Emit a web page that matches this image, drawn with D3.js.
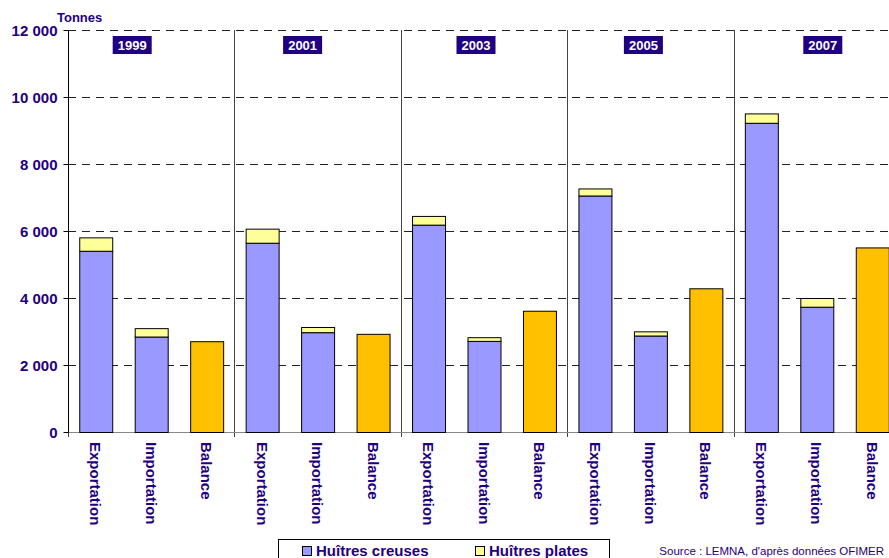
<!DOCTYPE html>
<html>
<head>
<meta charset="utf-8">
<title></title>
<script src="https://d3js.org/d3.v7.min.js"></script>
<style>
  body { margin: 0; background: #fff; }
  text { font-family: Arial, "Liberation Sans", sans-serif; }
</style>
</head>
<body>
<div id="svgcontainer"></div>
<script>
var width = 889;
var height = 558;

var years = ["1999", "2001", "2003", "2005", "2007"];
var kinds = ["Exportation", "Importation", "Balance"];

// tonnes, per year: [export, import]
var creuses = [[5410, 2850], [5650, 2980], [6190, 2720], [7060, 2880], [9230, 3740]];
var plates  = [[400, 250], [420, 155], [260, 110], [210, 125], [280, 260]];
var balance = [2710, 2930, 3620, 4290, 5510];

var yTicks = [0, 2000, 4000, 6000, 8000, 10000, 12000];
var yearLabelShift = [-19, -15, -8, -7, 6];

var navy = "#1F0080";
var colCreuses = "#9999FF", colPlates = "#FFFF99", colBalance = "#FFC000";

var svg = d3.select("#svgcontainer")
    .append("svg")
    .attr("width", width)
    .attr("height", height);

// one band per bar, 15 of them
var cats = [];
years.forEach(function (yr, i) {
    kinds.forEach(function (k) { cats.push({ year: yr, yi: i, kind: k, id: yr + "-" + k }); });
});

var x = d3.scaleBand()
    .domain(cats.map(function (d) { return d.id; }))
    .range([68, 900])
    .paddingInner(0.4054)
    .paddingOuter(0.2027);

var y = d3.scaleLinear().domain([0, 12000]).range([432, 30]);

var groupW = (900 - 68) / years.length;

// dashed gridlines
svg.append("g").selectAll("line")
    .data(yTicks.slice(1))
    .enter().append("line")
    .attr("x1", 68).attr("x2", 900)
    .attr("y1", function (d) { return y(d) + 0.5; })
    .attr("y2", function (d) { return y(d) + 0.5; })
    .attr("stroke", "#222")
    .attr("stroke-dasharray", "8,6");

// group dividers
svg.append("g").selectAll("line")
    .data(d3.range(1, years.length))
    .enter().append("line")
    .attr("x1", function (i) { return Math.round(68 + i * groupW) + 0.5; })
    .attr("x2", function (i) { return Math.round(68 + i * groupW) + 0.5; })
    .attr("y1", 30).attr("y2", 437)
    .attr("stroke", "#444");

// x axis line and ticks
svg.append("line")
    .attr("x1", 68).attr("x2", 900)
    .attr("y1", 432.5).attr("y2", 432.5)
    .attr("stroke", "#888");
svg.append("line")
    .attr("x1", 68.5).attr("x2", 68.5)
    .attr("y1", 432).attr("y2", 437)
    .attr("stroke", "#444");

// y axis
var yAxis = svg.append("g")
    .attr("transform", "translate(68.5,0)")
    .call(d3.axisLeft(y).tickValues(yTicks).tickSize(5).tickPadding(6)
        .tickFormat(function (d) { return d3.format(",")(d).replace(",", " "); }));
yAxis.select(".domain").attr("stroke", "#000").attr("d", "M0,30V432");
yAxis.selectAll(".tick line").attr("stroke", "#000");
yAxis.selectAll(".tick text")
    .attr("fill", navy)
    .attr("font-size", "15px")
    .attr("font-weight", "bold")
    .attr("dy", "0.36em")
    .style("font-family", "Arial, 'Liberation Sans', sans-serif");

svg.append("text")
    .attr("x", 57).attr("y", 22)
    .attr("fill", navy)
    .attr("font-size", "13px")
    .attr("font-weight", "bold")
    .text("Tonnes");

// bars
var bars = svg.append("g");
cats.forEach(function (c) {
    var bx = x(c.id), bw = x.bandwidth();
    if (c.kind === "Balance") {
        bars.append("rect")
            .attr("x", bx + 0.5).attr("y", y(balance[c.yi]) + 0.5)
            .attr("width", bw).attr("height", y(0) - y(balance[c.yi]))
            .attr("fill", colBalance).attr("stroke", "#000");
    } else {
        var j = c.kind === "Exportation" ? 0 : 1;
        var v1 = creuses[c.yi][j], v2 = plates[c.yi][j];
        bars.append("rect")
            .attr("x", bx + 0.5).attr("y", y(v1) + 0.5)
            .attr("width", bw).attr("height", y(0) - y(v1))
            .attr("fill", colCreuses).attr("stroke", "#000");
        bars.append("rect")
            .attr("x", bx + 0.5).attr("y", y(v1 + v2) + 0.5)
            .attr("width", bw).attr("height", y(v1) - y(v1 + v2))
            .attr("fill", colPlates).attr("stroke", "#000");
    }
});

// category labels, rotated
svg.append("g").selectAll("text")
    .data(cats)
    .enter().append("text")
    .attr("transform", function (d) {
        return "translate(" + (x(d.id) + x.bandwidth() / 2) + ",442) rotate(90)";
    })
    .attr("dy", "0.36em")
    .attr("fill", navy)
    .attr("font-size", "15px")
    .attr("font-weight", "bold")
    .text(function (d) { return d.kind; });

// year boxes
var yb = svg.append("g").selectAll("g")
    .data(years)
    .enter().append("g")
    .attr("transform", function (d, i) {
        return "translate(" + (68 + (i + 0.5) * groupW + yearLabelShift[i]) + ",45)";
    });
yb.append("rect")
    .attr("x", -19.5).attr("y", -9)
    .attr("width", 39).attr("height", 18)
    .attr("fill", navy);
yb.append("text")
    .attr("text-anchor", "middle")
    .attr("dy", "0.36em")
    .attr("fill", "#fff")
    .attr("font-size", "13px")
    .attr("font-weight", "bold")
    .text(function (d) { return d; });

// legend
var lg = svg.append("g");
lg.append("rect")
    .attr("x", 278.5).attr("y", 539.5)
    .attr("width", 331).attr("height", 30)
    .attr("fill", "#fff").attr("stroke", "#000");
var legendItems = [["Huîtres creuses", colCreuses, 302], ["Huîtres plates", colPlates, 475]];
legendItems.forEach(function (it) {
    lg.append("rect")
        .attr("x", it[2] + 0.5).attr("y", 546.5)
        .attr("width", 9).attr("height", 9)
        .attr("fill", it[1]).attr("stroke", "#000");
    lg.append("text")
        .attr("x", it[2] + 14).attr("y", 556)
        .attr("fill", navy)
        .attr("font-size", "15px")
        .attr("font-weight", "bold")
        .text(it[0]);
});

svg.append("text")
    .attr("x", 884).attr("y", 555)
    .attr("text-anchor", "end")
    .attr("fill", navy)
    .attr("font-size", "11.5px")
    .text("Source : LEMNA, d'après données OFIMER");
</script>
</body>
</html>
